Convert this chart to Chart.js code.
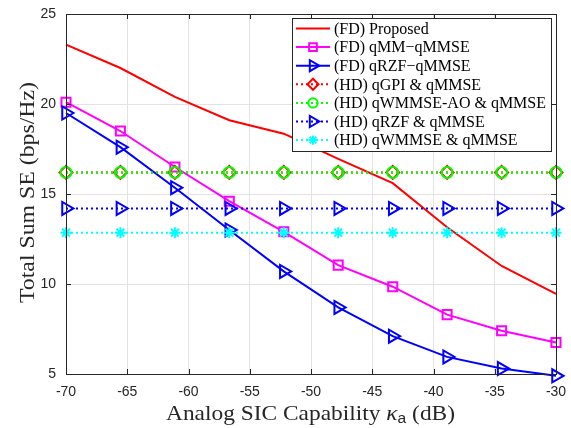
<!DOCTYPE html>
<html><head><meta charset="utf-8">
<script src="https://cdn.jsdelivr.net/npm/chart.js@4/dist/chart.umd.min.js"></script>
<style>html,body{margin:0;padding:0;background:#fff}canvas{display:block}</style>
</head><body>
<canvas id="c" width="571" height="428"></canvas>
<script>
// ---- data ----
const kappa = [-70, -65.56, -61.11, -56.67, -52.22, -47.78, -43.33, -38.89, -34.44, -30];
const fdProposed = [23.3, 22.0, 20.4, 19.1, 18.35, 16.95, 15.6, 13.15, 11.0, 9.45];
const fdQMM      = [20.1, 18.5, 16.5, 14.6, 12.9, 11.05, 9.85, 8.3, 7.4, 6.75];
const fdQRZF     = [19.5, 17.6, 15.35, 13.0, 10.7, 8.7, 7.1, 5.95, 5.3, 4.9];
const hdQGPI     = [16.2, 16.2, 16.2, 16.2, 16.2, 16.2, 16.2, 16.2, 16.2, 16.2];
const hdQWMMSEAO = [16.2, 16.2, 16.2, 16.2, 16.2, 16.2, 16.2, 16.2, 16.2, 16.2];
const hdQRZF     = [14.2, 14.2, 14.2, 14.2, 14.2, 14.2, 14.2, 14.2, 14.2, 14.2];
const hdQWMMSE   = [12.85, 12.85, 12.85, 12.85, 12.85, 12.85, 12.85, 12.85, 12.85, 12.85];
const seriesLabels = ['(FD) Proposed','(FD) qMM\u2212qMMSE','(FD) qRZF\u2212qMMSE','(HD) qGPI & qMMSE','(HD) qWMMSE-AO & qMMSE','(HD) qRZF & qMMSE','(HD) qWMMSE & qMMSE'];
const xTicks = [-70, -65, -60, -55, -50, -45, -40, -35, -30];
const yTicks = [5, 10, 15, 20, 25];

const AX = '#262626';
const pts = arr => arr.map((v,i)=>({x:kappa[i], y:v}));
const styles = [
  {data:fdProposed, color:'#ff0000', dash:[], marker:null, r:0},
  {data:fdQMM, color:'#ff00ff', dash:[], marker:'rect', r:6.4},
  {data:fdQRZF, color:'#0000ff', dash:[], marker:'triangle', r:7.5},
  {data:hdQGPI, color:'#ff0000', dash:[2,3], marker:'rectRot', r:6.5},
  {data:hdQWMMSEAO, color:'#00ff00', dash:[2,3], marker:'circle', r:5.5},
  {data:hdQRZF, color:'#0000ff', dash:[2,3], marker:'triangle', r:7.5},
  {data:hdQWMMSE, color:'#00ffff', dash:[2,3], marker:'star', r:5.5},
];
const datasets = styles.map((s,i)=>({
  label: seriesLabels[i],
  data: pts(s.data),
  borderColor: s.color,
  backgroundColor: s.color,
  borderWidth: 2,
  borderDash: s.dash,
  pointStyle: s.marker || 'circle',
  pointRadius: s.r,
  pointRotation: s.marker==='triangle' ? 90 : 0,
  pointBorderColor: s.color,
  pointBackgroundColor: 'rgba(0,0,0,0)',
  pointBorderWidth: 2,
  pointHoverRadius: s.r,
  tension: 0,
  clip: false,
  order: 10 - i
}));

function marker(ctx, type, x, y, r, color){
  if(!type) return;
  ctx.save();
  ctx.strokeStyle = color; ctx.lineWidth = 2; ctx.setLineDash([]);
  ctx.beginPath();
  if(type==='rect'){ const s=Math.SQRT1_2*r; ctx.rect(x-s,y-s,2*s,2*s); }
  else if(type==='rectRot'){ ctx.moveTo(x,y-r);ctx.lineTo(x+r,y);ctx.lineTo(x,y+r);ctx.lineTo(x-r,y);ctx.closePath(); }
  else if(type==='circle'){ ctx.arc(x,y,r,0,Math.PI*2); }
  else if(type==='triangle'){
    for(let k=0;k<3;k++){ const a=Math.PI/2 + k*2*Math.PI/3; const px=x+Math.sin(a)*r, py=y-Math.cos(a)*r; if(k===0)ctx.moveTo(px,py); else ctx.lineTo(px,py);} ctx.closePath();
  }
  else if(type==='star'){
    for(let k=0;k<4;k++){ const a=k*Math.PI/4; ctx.moveTo(x+Math.cos(a)*r,y+Math.sin(a)*r); ctx.lineTo(x-Math.cos(a)*r,y-Math.sin(a)*r);} }
  ctx.stroke();
  ctx.restore();
}

// draw text runs stretched horizontally to a target width (LaTeX-style wide serif)
function drawRuns(ctx, parts, cx, baseline, targetW){
  let tw=0; parts.forEach(p=>{ctx.font=p.f; p.w=ctx.measureText(p.t).width; tw+=p.w;});
  const sx = targetW / tw;
  ctx.save();
  ctx.translate(cx - targetW/2, baseline);
  ctx.scale(sx, 1);
  ctx.textAlign='left'; ctx.textBaseline='alphabetic';
  let x0=0;
  parts.forEach(p=>{ctx.font=p.f; ctx.fillText(p.t, x0, p.dy||0); x0+=p.w;});
  ctx.restore();
}

const decor = {
  id:'decor',
  afterDraw(chart){
    const ctx = chart.ctx, a = chart.chartArea;
    const xs = chart.scales.x, ys = chart.scales.y;
    ctx.save();
    // frame
    ctx.strokeStyle = AX; ctx.lineWidth = 1; ctx.setLineDash([]);
    ctx.strokeRect(Math.round(a.left)+0.5, Math.round(a.top)+0.5, Math.round(a.right-a.left), Math.round(a.bottom-a.top));
    // inward ticks
    ctx.beginPath();
    xTicks.forEach(t=>{ const px=Math.round(xs.getPixelForValue(t))+0.5;
      ctx.moveTo(px,a.bottom); ctx.lineTo(px,a.bottom-5);
      ctx.moveTo(px,a.top); ctx.lineTo(px,a.top+5); });
    yTicks.forEach(t=>{ const py=Math.round(ys.getPixelForValue(t))+0.5;
      ctx.moveTo(a.left,py); ctx.lineTo(a.left+5,py);
      ctx.moveTo(a.right,py); ctx.lineTo(a.right-5,py); });
    ctx.stroke();
    // axis titles
    ctx.fillStyle = AX;
    ctx.save();
    ctx.translate(34, 192.5);
    ctx.rotate(-Math.PI/2);
    drawRuns(ctx, [{t:'Total Sum SE (bps/Hz)', f:'21px "Liberation Serif"'}], 0, 0, 221);
    ctx.restore();
    drawRuns(ctx, [
      {t:'Analog SIC Capability ', f:'21px "Liberation Serif"'},
      {t:'\u03BA', f:'italic 21px "Liberation Serif"'},
      {t:'a', f:'14px "Liberation Sans"', dy:3},
      {t:' (dB)', f:'21px "Liberation Serif"'},
    ], 310.5, 420, 289);
    // legend
    const L=292, T=18, R=551, B=151;
    ctx.fillStyle='#fff'; ctx.fillRect(L,T,R-L,B-T);
    ctx.strokeStyle=AX; ctx.lineWidth=1; ctx.strokeRect(L+0.5,T+0.5,R-L,B-T);
    ctx.font='16px "Liberation Serif"'; ctx.textBaseline='middle';
    styles.forEach((s,i)=>{
      const y = 28.5 + i*18.6;
      ctx.save();
      ctx.strokeStyle=s.color; ctx.lineWidth=2; ctx.setLineDash(s.dash);
      ctx.beginPath(); ctx.moveTo(296,y); ctx.lineTo(330,y); ctx.stroke();
      ctx.restore();
      marker(ctx, s.marker, 313, y, s.r*0.85, s.color);
      ctx.fillStyle='#000';
      ctx.fillText(seriesLabels[i], 334, y+1);
    });
    ctx.restore();
  }
};

function noPad(s){ s.paddingLeft=0; s.paddingRight=0; s.paddingTop=0; s.paddingBottom=0; }

new Chart(document.getElementById('c'), {
  type:'line',
  data:{datasets},
  plugins:[decor],
  options:{
    responsive:false, animation:false,
    layout:{padding:{left:0,right:15,top:14,bottom:0}},
    plugins:{legend:{display:false}, tooltip:{enabled:false}},
    scales:{
      x:{type:'linear', min:-70, max:-30,
        afterBuildTicks(s){ s.ticks = xTicks.map(v=>({value:v})); },
        ticks:{color:AX, font:{family:'"Liberation Sans"', size:14}, padding:10, maxRotation:0, autoSkip:false, callback:v=>String(v)},
        grid:{color:'#e3e3e3', drawTicks:false, lineWidth:1},
        border:{display:false},
        afterFit(s){ s.height=54; noPad(s); }
      },
      y:{type:'linear', min:5, max:25,
        afterBuildTicks(s){ s.ticks = yTicks.map(v=>({value:v})); },
        ticks:{color:AX, font:{family:'"Liberation Sans"', size:14}, padding:10, callback:v=>String(v)},
        grid:{color:'#e3e3e3', drawTicks:false, lineWidth:1},
        border:{display:false},
        afterFit(s){ s.width=66; noPad(s); }
      }
    }
  }
});
</script>
</body></html>
